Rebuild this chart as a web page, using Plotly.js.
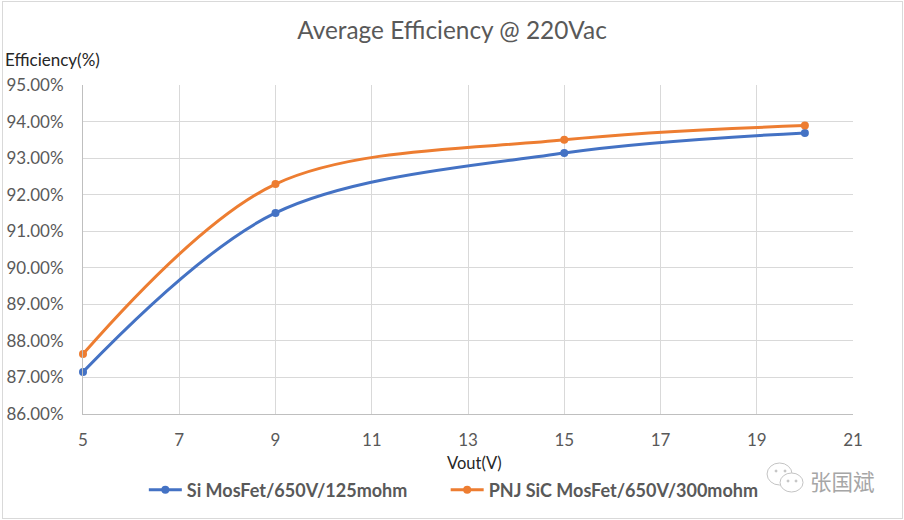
<!DOCTYPE html>
<html>
<head>
<meta charset="utf-8">
<script src="https://cdn.plot.ly/plotly-3.0.1.min.js"></script>
<style>
  html, body { margin: 0; padding: 0; background: #fff; }
  #frame { position: absolute; left: 2px; top: 1px; width: 899px; height: 516px; border: 1px solid #d9d9d9; }
  #chart { position: absolute; left: 0; top: 0; width: 904px; height: 520px; }
</style>
</head>
<body>
<div id="frame"></div>
<div id="chart"></div>
<script>
var vout = [5, 9, 15, 20];
var siEff = [87.15, 91.5, 93.14, 93.69];
var sicEff = [87.64, 92.29, 93.5, 93.89];
var siName = "Si MosFet/650V/125mohm";
var sicName = "PNJ SiC MosFet/650V/300mohm";
var xTicks = [5, 7, 9, 11, 13, 15, 17, 19, 21];
var yTicks = [86, 87, 88, 89, 90, 91, 92, 93, 94, 95];
var yLabels = ["86.00%", "87.00%", "88.00%", "89.00%", "90.00%", "91.00%", "92.00%", "93.00%", "94.00%", "95.00%"];

var grey = "#595959";
var font = "Lato, 'Open Sans', sans-serif";

function makeTrace(name, y, color, legendId) {
  return {
    x: vout,
    y: y,
    name: name,
    legend: legendId,
    showlegend: true,
    type: "scatter",
    mode: "lines+markers",
    cliponaxis: false,
    line: { color: color, width: 3, shape: "spline", smoothing: 0.95 },
    marker: { color: color, size: 8 }
  };
}

var data = [
  makeTrace(siName, siEff, "#4472c4", "legend"),
  makeTrace(sicName, sicEff, "#ed7d31", "legend2")
];

// one legend per series so the two entries can sit where the reference has them
function makeLegend(x) {
  return {
    orientation: "h",
    x: x, xanchor: "left",
    y: -0.231, yanchor: "middle",
    font: { family: font, size: 18, color: grey, weight: "bold" },
    bgcolor: "rgba(0,0,0,0)",
    itemwidth: 33,
    itemclick: false,
    itemdoubleclick: false
  };
}

// wechat logo of the watermark, given in page pixels
function logoOval(x0, y0, x1, y1, filled) {
  return {
    type: "circle",
    xref: "paper", yref: "paper",
    x0: (x0 - 82.5) / 770.5, x1: (x1 - 82.5) / 770.5,
    y0: (414 - y0) / 329, y1: (414 - y1) / 329,
    line: { color: "#c4c4c4", width: 1 },
    fillcolor: filled ? "#c4c4c4" : "#ffffff",
    layer: "above"
  };
}

var layout = {
  width: 904,
  height: 520,
  showlegend: true,
  margin: { l: 82.5, r: 51, t: 85, b: 106 },
  paper_bgcolor: "rgba(0,0,0,0)",
  plot_bgcolor: "rgba(0,0,0,0)",
  title: {
    text: "Average Efficiency @ 220Vac",
    font: { family: font, size: 24.4, color: grey },
    x: 0.5, xanchor: "center", xref: "container",
    y: 0.941, yanchor: "middle"
  },
  xaxis: {
    range: [5, 21],
    tickvals: xTicks,
    ticks: "",
    ticklabelstandoff: 11,
    tickfont: { family: font, size: 17, color: grey },
    gridcolor: "#d9d9d9",
    gridwidth: 1,
    showline: true,
    linecolor: "#bfbfbf",
    zeroline: false,
    fixedrange: true
  },
  yaxis: {
    range: [86, 95],
    tickvals: yTicks,
    ticktext: yLabels,
    ticks: "",
    ticklabelstandoff: 15,
    tickfont: { family: font, size: 17, color: grey },
    gridcolor: "#d9d9d9",
    gridwidth: 1,
    showline: true,
    linecolor: "#bfbfbf",
    zeroline: false,
    fixedrange: true
  },
  legend: makeLegend(0.079),
  legend2: makeLegend(0.471),
  shapes: [
    logoOval(767, 463, 792, 485),
    logoOval(780, 473, 803, 492),
    logoOval(775, 470, 777, 472, true),
    logoOval(784, 470, 786, 472, true),
    logoOval(787, 480, 789, 482, true),
    logoOval(795, 480, 797, 482, true)
  ],
  annotations: [
    { text: "Efficiency(%)", xref: "paper", yref: "paper", x: -0.104, xanchor: "left",
      y: 1.079, yanchor: "middle", showarrow: false, font: { family: font, size: 17, color: "#262626" } },
    { text: "Vout(V)", xref: "paper", yref: "paper", x: 0.509, xanchor: "center",
      y: -0.148, yanchor: "middle", showarrow: false, font: { family: font, size: 16.5, color: "#262626" } },
    { text: "张国斌", xref: "paper", yref: "paper", x: 0.986, xanchor: "center",
      y: -0.203, yanchor: "middle", showarrow: false,
      font: { family: "'Noto Sans CJK SC'", size: 21.5, color: "#a6a6a6" } }
  ]
};

Plotly.newPlot("chart", data, layout, { displayModeBar: false, staticPlot: true });
</script>
</body>
</html>
